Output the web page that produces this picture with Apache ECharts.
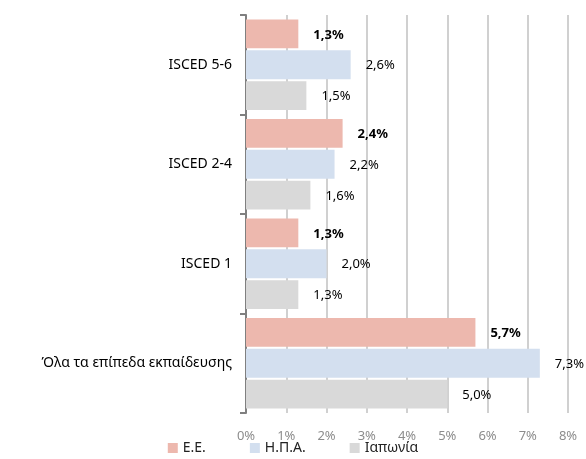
<!DOCTYPE html>
<html><head><meta charset="utf-8">
<script src="https://cdn.jsdelivr.net/npm/echarts@6/dist/echarts.min.js"></script>
<style>html,body{margin:0;padding:0;background:#fff}#c{width:586px;height:459px}</style>
</head><body><div id="c"></div>
<script>
const categories = ["ISCED 5-6", "ISCED 2-4", "ISCED 1", "Όλα τα επίπεδα εκπαίδευσης"];
const seriesNames = ["Ε.Ε.", "Η.Π.Α.", "Ιαπωνία"];
const euValues = [1.3, 2.4, 1.3, 5.7];
const usaValues = [2.6, 2.2, 2.0, 7.3];
const japanValues = [1.5, 1.6, 1.3, 5.0];
const xTicks = [0, 1, 2, 3, 4, 5, 6, 7, 8];
const colors = ["#EDB8AE", "#D3DFEF", "#D9D9D9"];
const FONT = "Noto Sans";

const fmt = v => v.toFixed(1).replace('.', ',') + '%';
function mk(name, data, color, bold) {
  return {
    name, type: 'bar', data,
    barCategoryGap: '9%', barGap: '7%',
    itemStyle: { color },
    label: { show: true, position: 'right', distance: 15, fontFamily: FONT, fontSize: 13,
      fontWeight: bold ? 'bold' : 'normal', color: '#000', offset: [0, 1],
      formatter: p => fmt(p.value) },
    emphasis: { disabled: true }, animation: false
  };
}
const chart = echarts.init(document.getElementById('c'), null, { renderer: 'canvas' });
chart.setOption({
  animation: false,
  textStyle: { fontFamily: FONT },
  grid: { left: 246, right: 18, top: 15, bottom: 46, containLabel: false },
  legend: { bottom: -1, left: 'center', icon: 'rect', itemWidth: 10, itemHeight: 10, itemGap: 44,
    textStyle: { fontFamily: FONT, fontSize: 14, color: '#222' }, data: seriesNames },
  xAxis: { type: 'value', min: xTicks[0], max: xTicks[xTicks.length - 1], interval: 1,
    axisLine: { show: false }, axisTick: { show: false },
    splitLine: { show: true, lineStyle: { color: '#D0D0D0', width: 2 } },
    axisLabel: { formatter: '{value}%', color: '#8C8C8C', fontFamily: FONT, fontSize: 13, margin: 17 } },
  yAxis: { type: 'category', data: categories, inverse: true,
    axisLine: { show: true, lineStyle: { color: '#808080', width: 2 } },
    axisTick: { show: true, length: 6, lineStyle: { color: '#808080', width: 2 } },
    axisLabel: { color: '#000', fontFamily: FONT, fontSize: 14, margin: 14 } },
  series: [
    mk(seriesNames[0], euValues, colors[0], true),
    mk(seriesNames[1], usaValues, colors[1], false),
    mk(seriesNames[2], japanValues, colors[2], false)
  ]
});
</script></body></html>
